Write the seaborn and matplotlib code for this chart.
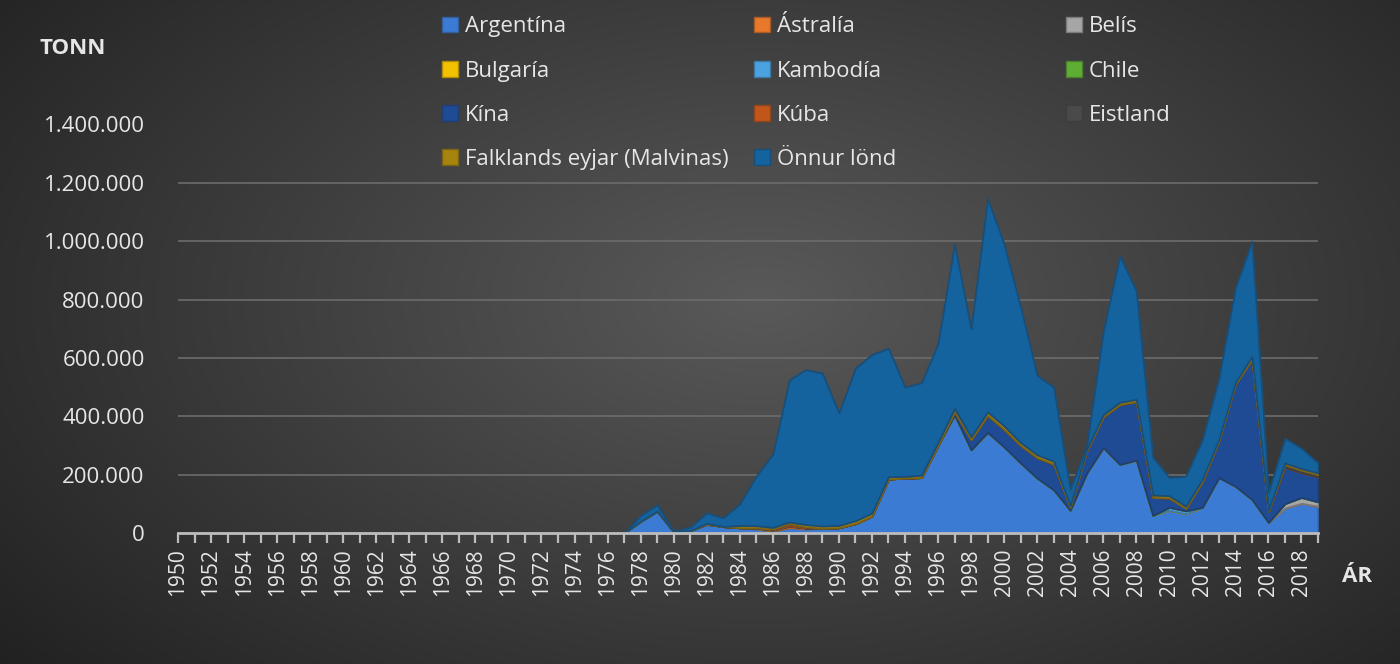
import matplotlib
matplotlib.use("Agg")
import matplotlib.pyplot as plt
from matplotlib.patches import Patch
from matplotlib.ticker import FuncFormatter, MultipleLocator
import numpy as np
import pandas as pd
import seaborn as sns

# years 1950-2019, values in thousand tonnes (nothing before 1977)
years = list(range(1950, 2020))
pad = [0] * 27  # 1950-1976

# 1977 .. 2019
argentina = pad + [0, 40, 75, 4, 8, 30, 22, 18, 14, 6, 18, 14, 16, 18, 32, 58, 185, 188, 190, 300,
                   405, 285, 345, 295, 240, 188, 148, 78, 205, 293, 235, 250, 60, 78, 66, 88, 190, 160,
                   115, 36, 86, 102, 92]
astralia = pad + [0, 0, 0, 0, 0, 0, 0, 0, 3, 4, 6, 3, 0, 0, 0, 0, 0, 0, 0, 0,
                  0, 0, 0, 0, 0, 0, 0, 0, 0, 0, 0, 0, 0, 0, 0, 0, 0, 0,
                  0, 0, 0, 0, 0]
belis = pad + [0, 0, 0, 0, 0, 0, 0, 0, 0, 0, 0, 0, 0, 0, 0, 0, 0, 0, 0, 0,
               0, 0, 0, 0, 0, 0, 0, 0, 0, 0, 0, 0, 0, 0, 0, 0, 0, 0,
               0, 0, 15, 20, 15]
bulgaria = pad + [0] * 43
kambodia = pad + [0, 0, 0, 0, 0, 0, 0, 0, 0, 0, 0, 0, 0, 0, 0, 0, 0, 0, 0, 0,
                  0, 0, 0, 0, 0, 0, 0, 0, 0, 0, 0, 0, 0, 10, 10, 0, 0, 0,
                  0, 0, 0, 0, 0]
chile = pad + [0] * 43
kina = pad + [0, 0, 0, 0, 0, 0, 0, 0, 0, 0, 0, 0, 0, 0, 0, 0, 0, 0, 0, 0,
              10, 35, 58, 60, 60, 70, 88, 10, 75, 105, 205, 200, 62, 32, 8, 88, 125, 350,
              480, 38, 125, 85, 85]
kuba = pad + [0, 0, 0, 0, 0, 0, 0, 0, 0, 3, 8, 4, 0, 0, 0, 0, 0, 0, 0, 0,
              0, 0, 0, 0, 0, 0, 0, 0, 0, 0, 0, 0, 0, 0, 0, 0, 0, 0,
              0, 0, 0, 0, 0]
eistland = pad + [0, 0, 0, 0, 0, 0, 0, 0, 0, 0, 0, 0, 0, 0, 0, 0, 0, 0, 0, 0,
                  0, 0, 0, 0, 0, 0, 0, 0, 0, 0, 0, 0, 0, 0, 0, 0, 0, 0,
                  0, 0, 8, 8, 8]
falklands = pad + [0, 0, 0, 0, 0, 3, 0, 8, 8, 6, 6, 8, 8, 8, 10, 10, 8, 6, 8, 10,
                   12, 10, 12, 12, 10, 10, 10, 5, 6, 8, 8, 8, 8, 8, 8, 8, 6, 6,
                   10, 4, 6, 6, 6]
onnur = pad + [0, 20, 22, 2, 12, 36, 30, 74, 170, 251, 487, 531, 524, 386, 523, 544, 440, 306, 317, 340,
               563, 370, 730, 623, 465, 272, 254, 57, 14, 284, 502, 372, 130, 62, 103, 136, 209, 324,
               395, 62, 85, 69, 34]

names = ["Argentína", "Ástralía", "Belís", "Bulgaría", "Kambodía", "Chile", "Kína", "Kúba",
         "Eistland", "Falklands eyjar (Malvinas)", "Önnur lönd"]
colors = ["#3b7bd4", "#e8782a", "#a6a6a6", "#f2c200", "#4aa3e0", "#5fae34", "#1f4a94",
          "#c2561a", "#4a4a4a", "#a7840e", "#14629e"]

df = pd.DataFrame({"ár": years})
for n, s in zip(names, [argentina, astralia, belis, bulgaria, kambodia, chile, kina, kuba,
                        eistland, falklands, onnur]):
    df[n] = np.array(s) * 1000

sns.set_theme(style="dark")
plt.rcParams["font.family"] = ["Open Sans", "DejaVu Sans"]
txt = "#e6e6e6"

fig = plt.figure(figsize=(14, 6.64), dpi=100)

# dark radial background
bg = fig.add_axes([0, 0, 1, 1], zorder=-5)
yy, xx = np.mgrid[0:664, 0:1400]
r = np.sqrt(((xx - 760) / 900.0) ** 2 + ((yy - 300) / 520.0) ** 2)
shade = np.clip(0.35 - 0.2 * r, 0.13, 0.35)
bg.imshow(np.dstack([shade] * 3), aspect="auto", extent=[0, 1, 0, 1])
bg.axis("off")

ax = fig.add_axes([178 / 1400, 1 - 533 / 664, (1318 - 178) / 1400, (533 - 124.5) / 664])
ax.set_facecolor("none")
edge = [sns.dark_palette(c, n_colors=4)[2] for c in colors]
polys = ax.stackplot(df["ár"], *[df[n] for n in names], colors=colors, linewidth=1.3)
for p, e in zip(polys, edge):
    p.set_edgecolor(e)

ax.set_xlim(1950, 2019)
ax.set_ylim(0, 1400000)
ax.yaxis.set_major_locator(MultipleLocator(200000))
ax.yaxis.set_major_formatter(FuncFormatter(lambda v, p: f"{int(v):,}".replace(",", ".")))
ax.xaxis.set_major_locator(MultipleLocator(2))
ax.xaxis.set_minor_locator(MultipleLocator(1))
ax.xaxis.set_major_formatter(FuncFormatter(lambda v, p: f"{int(v)}"))
ax.grid(axis="y", color="#6c6c6c", linewidth=1.2)
ax.grid(axis="x", visible=False)
ax.set_axisbelow(True)
for s in ["top", "right", "left"]:
    ax.spines[s].set_visible(False)
ax.spines["bottom"].set_color("#bdbdbd")
ax.spines["bottom"].set_linewidth(2)
ax.spines["bottom"].set_zorder(5)
ax.tick_params(axis="y", length=0, pad=24, labelsize=16, labelcolor=txt)
ax.tick_params(axis="x", which="both", direction="out", length=7, width=1.6, color="#bdbdbd",
               bottom=True, pad=4, labelsize=15, labelcolor=txt, labelrotation=90)

fig.text(40 / 1400, 1 - 48 / 664, "TONN", color=txt, fontsize=16, fontweight="bold", va="center")
fig.text(1342 / 1400, 1 - 577 / 664, "ÁR", color=txt, fontsize=16, fontweight="bold", va="center")

# legend in three equal columns, row-major order like the original
handles = [Patch(facecolor=c, edgecolor=e, linewidth=1) for c, e in zip(colors, edge)]
cols = [[0, 3, 6, 9], [1, 4, 7, 10], [2, 5, 8]]
col_x = [438, 750, 1062]
for xs, idx in zip(col_x, cols):
    leg = fig.legend([handles[i] for i in idx], [names[i] for i in idx], loc="upper left",
                     bbox_to_anchor=(xs / 1400, 1 - 12 / 664), frameon=False, fontsize=16,
                     labelcolor=txt, handlelength=0.7, handleheight=0.7, handletextpad=0.3,
                     labelspacing=1.04, borderaxespad=0, borderpad=0.2)

fig.savefig("out.png", dpi=100)
